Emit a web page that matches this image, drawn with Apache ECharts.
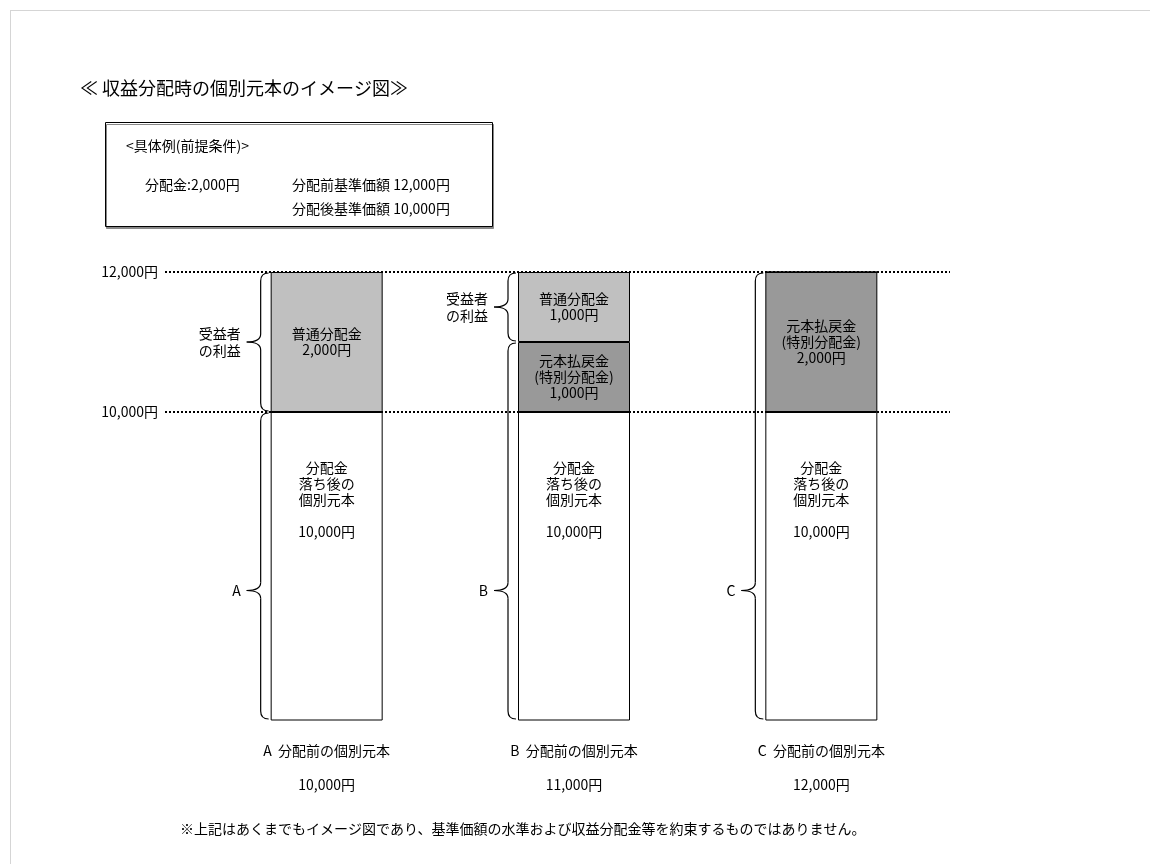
<!DOCTYPE html>
<html>
<head>
<meta charset="utf-8">
<script src="https://cdn.jsdelivr.net/npm/echarts@6/dist/echarts.min.js"></script>
<style>
  html, body { margin: 0; padding: 0; background: #fff; }
  #chart { width: 1150px; height: 864px; }
</style>
</head>
<body>
<div id="chart"></div>
<script>
var FONT = '"Noto Sans CJK JP", sans-serif';

// データ
var categories = ['A', 'B', 'C'];
var categoryLabels = ['A  分配前の個別元本', 'B  分配前の個別元本', 'C  分配前の個別元本'];
var principalBefore = ['10,000円', '11,000円', '12,000円'];
var baseValues = [10000, 10000, 10000];      // 分配金落ち後の個別元本
var specialValues = [0, 1000, 2000];         // 元本払戻金(特別分配金)
var normalValues = [2000, 1000, 0];          // 普通分配金
var refLines = [12000, 10000];
var refLabels = ['12,000円', '10,000円'];

var chart = echarts.init(document.getElementById('chart'));

function segLabel(fmt, pos, dist) {
    return {
        show: true, position: pos, distance: dist || 5,
        color: '#000', fontFamily: FONT, fontSize: 14, lineHeight: 16,
        formatter: fmt
    };
}
function yen(v) { return v.toLocaleString('en-US') + '円'; }

chart.setOption({
    animation: false,
    grid: { left: 203, right: 205, top: 272, bottom: 144 },
    xAxis: {
        type: 'category',
        data: categories,
        axisLine: { show: false },
        axisTick: { show: false },
        axisLabel: {
            margin: 22, fontFamily: FONT, fontSize: 14, color: '#000', lineHeight: 17,
            formatter: function(v, i) {
                return categoryLabels[i] + '\n\n' + principalBefore[i];
            }
        }
    },
    yAxis: { type: 'value', min: 5600, max: 12000, show: false },
    series: [
        {
            name: 'base', type: 'bar', stack: 's', barWidth: 112,
            data: baseValues,
            itemStyle: { color: '#fff', borderColor: '#000', borderWidth: 1 },
            label: segLabel(function(p) {
                return '分配金\n落ち後の\n個別元本\n\n' + yen(p.value);
            }, 'insideTop', 48)
        },
        {
            name: 'special', type: 'bar', stack: 's', barWidth: 112,
            data: specialValues,
            itemStyle: { color: '#999999', borderColor: '#000', borderWidth: 1 },
            label: segLabel(function(p) {
                return p.value ? '元本払戻金\n(特別分配金)\n' + yen(p.value) : '';
            }, 'inside')
        },
        {
            name: 'normal', type: 'bar', stack: 's', barWidth: 112,
            data: normalValues,
            itemStyle: { color: '#c0c0c0', borderColor: '#000', borderWidth: 1 },
            label: segLabel(function(p) {
                return p.value ? '普通分配金\n' + yen(p.value) : '';
            }, 'inside')
        }
    ]
});

var gfx = [];
var txt = function(x, y, s, size, align) {
    return { type: 'text', x: x, y: y, z: 10,
        style: { text: s, fill: '#000', font: (size || 14) + 'px ' + FONT, align: align || 'left', verticalAlign: 'middle', lineHeight: 17 } };
};

// 基準価額の点線
refLines.forEach(function(v, i) {
    var y = chart.convertToPixel({ gridIndex: 0 }, [0, v])[1];
    gfx.push({ type: 'line', z: 10, shape: { x1: 165, y1: y, x2: 950, y2: y },
        style: { stroke: '#000', lineWidth: 2, lineDash: [2, 2] } });
    gfx.push(txt(158, y, refLabels[i], 14, 'right'));
});

// 中括弧 (tip: 先端の位置)
var braces = [
    { cat: 0, from: 12000, to: 10000, tip: 11000, text: '受益者\nの利益' },
    { cat: 0, from: 10000, to: 5600, tip: 7450, text: 'A' },
    { cat: 1, from: 12000, to: 11000, tip: 11500, text: '受益者\nの利益' },
    { cat: 1, from: 11000, to: 5600, tip: 7450, text: 'B' },
    { cat: 2, from: 12000, to: 5600, tip: 7450, text: 'C' }
];
var st = { fill: 'none', stroke: '#000', lineWidth: 1.2 };
braces.forEach(function(b) {
    var p1 = chart.convertToPixel({ gridIndex: 0 }, [b.cat, b.from]);
    var p2 = chart.convertToPixel({ gridIndex: 0 }, [b.cat, b.to]);
    var ym = chart.convertToPixel({ gridIndex: 0 }, [b.cat, b.tip])[1];
    var x = p1[0] - 56 - 10, y1 = p1[1] + 1, y2 = p2[1] - 1, r = 8, d = 14;
    gfx.push(
        { type: 'bezierCurve', z: 10, shape: { x1: x + r, y1: y1, cpx1: x, cpy1: y1, x2: x, y2: y1 + r }, style: st },
        { type: 'line', z: 10, shape: { x1: x, y1: y1 + r, x2: x, y2: ym - r }, style: st },
        { type: 'bezierCurve', z: 10, shape: { x1: x, y1: ym - r, cpx1: x, cpy1: ym, x2: x - d, y2: ym }, style: st },
        { type: 'bezierCurve', z: 10, shape: { x1: x - d, y1: ym, cpx1: x, cpy1: ym, x2: x, y2: ym + r }, style: st },
        { type: 'line', z: 10, shape: { x1: x, y1: ym + r, x2: x, y2: y2 - r }, style: st },
        { type: 'bezierCurve', z: 10, shape: { x1: x, y1: y2 - r, cpx1: x, cpy1: y2, x2: x + r, y2: y2 }, style: st }
    );
    gfx.push(txt(x - d - 6, ym, b.text, 14, 'right'));
});

gfx.push(
    { type: 'rect', shape: { x: 10.5, y: 10.5, width: 1150, height: 900 },
      style: { fill: 'none', stroke: '#aaa', lineDash: [1, 1] } },
    txt(80, 88, '≪ 収益分配時の個別元本のイメージ図≫', 18),
    { type: 'rect', shape: { x: 105.5, y: 122.5, width: 387, height: 104 },
      style: { fill: '#fff', stroke: '#000', lineWidth: 1, shadowColor: '#888', shadowOffsetX: 1, shadowOffsetY: 2 } },
    txt(126, 146, '<具体例(前提条件)>'),
    txt(145, 185, '分配金:2,000円'),
    txt(292, 185, '分配前基準価額 12,000円'),
    txt(292, 209, '分配後基準価額 10,000円'),
    txt(180, 829, '※上記はあくまでもイメージ図であり、基準価額の水準および収益分配金等を約束するものではありません。')
);
chart.setOption({ graphic: gfx });
</script>
</body>
</html>
